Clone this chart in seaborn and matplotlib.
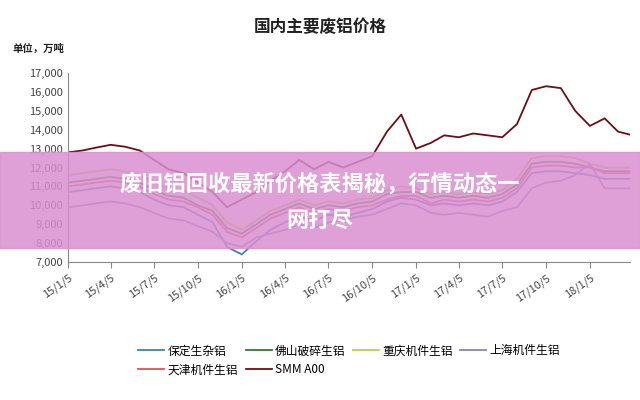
import matplotlib
matplotlib.use("Agg")
import matplotlib.pyplot as plt
import pandas as pd
import seaborn as sns

plt.rcParams["font.family"] = ["Noto Sans CJK SC", "DejaVu Sans"]

# monthly estimates
dates = pd.date_range("2015-01-01", periods=40, freq="MS") + pd.Timedelta(days=4)

smm_a00 = [12800, 12900, 13050, 13200, 13100, 12900, 12400, 11900, 11700, 11200,
           10700, 9900, 10300, 10700, 11300, 11800, 12400, 11900, 12300, 12000,
           12300, 12600, 13900, 14800, 13000, 13300, 13700, 13600, 13800, 13700,
           13600, 14300, 16100, 16300, 16200, 15000, 14200, 14600, 13900, 13700]
tianjin = [11000, 11100, 11200, 11300, 11200, 11000, 10600, 10300, 10200, 9900,
           9500, 8600, 8300, 8800, 9300, 9600, 9900, 9600, 9800, 9700,
           9900, 10000, 10300, 10500, 10500, 10100, 10300, 10200, 10300, 10200,
           10400, 10900, 12000, 12100, 12100, 12000, 12000, 11700, 11700, 11700]
chongqing = [11600, 11700, 11800, 11900, 11800, 11600, 11200, 10900, 10800, 10400,
             10000, 9100, 8700, 9200, 9700, 10000, 10300, 10000, 10200, 10100,
             10300, 10400, 10800, 11000, 10900, 10600, 10700, 10600, 10700, 10600,
             10800, 11400, 12500, 12600, 12600, 12500, 12200, 12000, 12000, 12000]
shanghai = [9900, 10000, 10100, 10200, 10100, 9900, 9600, 9300, 9200, 8900,
            8600, 8000, 7800, 8300, 8500, 8700, 9000, 8800, 9100, 9200,
            9400, 9500, 9800, 10100, 10000, 9600, 9500, 9600, 9500, 9400,
            9700, 9900, 10900, 11200, 11300, 11600, 12200, 10900, 10900, 10900]
baoding = [10700, 10800, 10900, 11000, 10900, 10700, 10300, 10000, 9900, 9500,
           9100, 7800, 7400, 8100, 8700, 9100, 9400, 9200, 9500, 9400,
           9600, 9800, 10200, 10400, 10300, 10000, 10100, 10000, 10100, 10000,
           10200, 10700, 11700, 11800, 11800, 11700, 11600, 11400, 11400, 11400]
foshan = [11200, 11300, 11400, 11500, 11400, 11200, 10800, 10500, 10400, 10000,
          9700, 8800, 8500, 9000, 9500, 9800, 10100, 9800, 10000, 9900,
          10100, 10200, 10600, 10700, 10700, 10400, 10500, 10400, 10500, 10400,
          10600, 11100, 12200, 12300, 12300, 12200, 12000, 11800, 11800, 11800]

series_names = ["保定生杂铝", "佛山破碎生铝", "重庆机件生铝", "上海机件生铝", "天津机件生铝", "SMM A00"]
series_values = [baoding, foshan, chongqing, shanghai, tianjin, smm_a00]
colors = ["#3a7fc4", "#2e7d32", "#c0d040", "#8a80c8", "#e0505a", "#6b0f14"]

tick_dates = pd.date_range("2015-01-01", periods=13, freq="QS") + pd.Timedelta(days=4)
tick_labels = ["15/1/5", "15/4/5", "15/7/5", "15/10/5", "16/1/5", "16/4/5", "16/7/5",
               "16/10/5", "17/1/5", "17/4/5", "17/7/5", "17/10/5", "18/1/5"]

df = pd.concat([pd.DataFrame({"date": dates, "price": v, "name": n})
                for n, v in zip(series_names, series_values)])

fig = plt.figure(figsize=(6.4, 4.0), dpi=100)
ax = fig.add_axes([0.106, 0.345, 0.879, 0.4725])
sns.lineplot(data=df, x="date", y="price", hue="name", palette=colors,
             hue_order=series_names, linewidth=1.3, ax=ax, legend=True)

ax.set_ylim(7000, 17000)
ax.set_yticks(range(7000, 17001, 1000))
ax.set_yticklabels([f"{v:,}" for v in range(7000, 17001, 1000)], fontsize=8, color="#444444")
ax.set_xlim(pd.Timestamp("2015-01-05"), pd.Timestamp("2018-03-31"))
ax.set_xticks(tick_dates)
ax.set_xticklabels(tick_labels, rotation=35, ha="right", rotation_mode="anchor",
                   fontsize=8, color="#444444")
ax.set_xlabel("")
ax.set_ylabel("")
for s in ["top", "right"]:
    ax.spines[s].set_visible(False)
ax.spines["left"].set_color("#888888")
ax.spines["bottom"].set_color("#888888")
ax.tick_params(axis="y", length=0)
ax.tick_params(axis="x", direction="out", length=4, color="#888888")

handles, labels = ax.get_legend_handles_labels()
order = [0, 4, 1, 5, 2, 3]
ax.legend([handles[i] for i in order], [labels[i] for i in order], ncol=4,
          loc="upper center", bbox_to_anchor=(0.5, -0.38), frameon=False,
          fontsize=8.5, handlelength=2.2, columnspacing=0.6, handletextpad=0.3)

fig.text(0.5, 0.92, "国内主要废铝价格", ha="center", fontsize=12, fontweight="bold", color="#222222")
fig.text(0.02, 0.87, "单位，万吨", ha="left", fontsize=7.5, fontweight="bold", color="#222222")

# pink banner overlay
fig.patches.append(plt.Rectangle((0, 0.38), 1, 0.24, transform=fig.transFigure,
                                 color="#d98fd0", alpha=0.85, zorder=5))
fig.text(0.5, 0.54, "废旧铝回收最新价格表揭秘，行情动态一", ha="center", va="center",
         fontsize=16, fontweight="bold", color="white", zorder=6)
fig.text(0.5, 0.45, "网打尽", ha="center", va="center",
         fontsize=16, fontweight="bold", color="white", zorder=6)

fig.savefig("out.png", dpi=100)
